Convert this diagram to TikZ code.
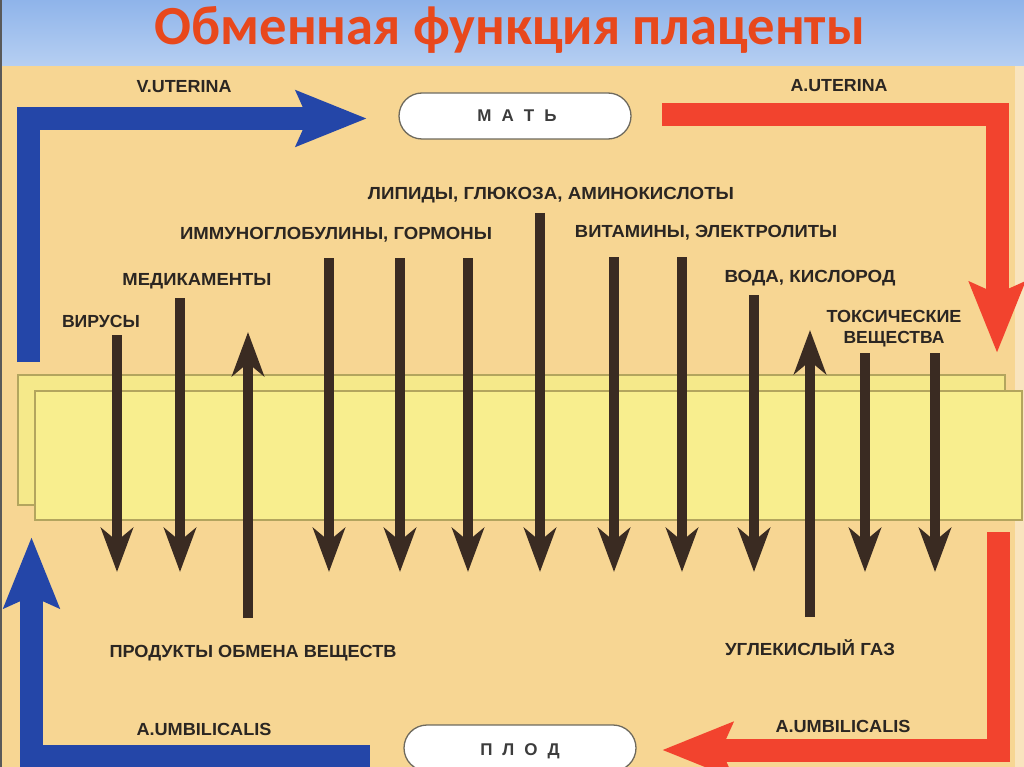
\documentclass[tikz,border=0pt]{standalone}
\usepackage{fontspec}
\setmainfont{Liberation Sans}
\newfontfamily\titlefont{Carlito}
\usetikzlibrary{arrows.meta,shapes.misc}
\definecolor{sky1}{HTML}{8FB4EA}
\definecolor{sky2}{HTML}{B6CFF2}
\definecolor{peach}{HTML}{F7D693}
\definecolor{edgepale}{HTML}{F9E4BE}
\definecolor{memfill}{HTML}{F8EE8E}
\definecolor{memback}{HTML}{F5E98A}
\definecolor{memline}{HTML}{B3A55E}
\definecolor{brn}{HTML}{3A2B22}
\definecolor{blu}{HTML}{2446A8}
\definecolor{rd}{HTML}{F2432E}
\definecolor{ttl}{HTML}{E8481C}
\definecolor{lab}{HTML}{2B2622}
\definecolor{boxtxt}{HTML}{3C3C3C}
\definecolor{boxline}{HTML}{6E6A5E}
\newcommand{\lw}[2]{\resizebox{#1pt}{\height}{#2}}
\begin{document}
\begin{tikzpicture}[x=1pt,y=-1pt,
  lbl/.style={font=\bfseries\fontsize{17.5pt}{21pt}\selectfont, text=lab, inner sep=0pt, anchor=base},
  pill/.style={rounded rectangle, draw=boxline, line width=1.3pt, fill=white, minimum width=232pt, minimum height=46pt, inner sep=0pt},
  pilltext/.style={font=\bfseries\fontsize{17pt}{20pt}\selectfont, text=boxtxt, inner sep=0pt, anchor=base},
  membrane/.style={draw=memline, line width=1.2pt},
  flow/.style={draw=brn, line width=10pt, -{Stealth[length=44pt,width=32pt,inset=13pt]}},
  vessel/.style={line width=23pt, line join=miter, -{Stealth[length=70pt,width=54pt,inset=11pt]}}
]
\useasboundingbox (0,0) rectangle (1024,767);
% background
\fill[peach] (0,0) rectangle (1024,767);
\fill[edgepale] (1015,66) rectangle (1024,767);
\shade[top color=sky1, bottom color=sky2] (0,0) rectangle (1024,66);
\draw[gray!70!black, line width=1.5pt] (1,0) -- (1,767);
% title
\node[anchor=base, inner sep=0pt, text=ttl] (title) at (510,45)
  {\resizebox{710pt}{38pt}{\titlefont\bfseries Обменная функция плаценты}};
% membrane
\fill[memback] (18,375) rectangle (1005,505);
\draw[membrane] (18,375) rectangle (1005,505);
\fill[memfill] (35,391) rectangle (1022,520);
\draw[membrane] (35,391) rectangle (1022,520);
% pills
\node[pill] (mat) at (515,116) {};
\node[pilltext] (mattext) at (517,122) {М\hspace{10pt}А\hspace{10pt}Т\hspace{10pt}Ь};
\node[pill] (plod) at (520,748) {};
\node[pilltext] (plodtext) at (520,755) {П\hspace{10pt}Л\hspace{10pt}О\hspace{10pt}Д};
% vessels
\coordinate (vu0) at (28,362);
\coordinate (vu1) at (28,118.5);
\coordinate (vu2) at (367,118.5);
\draw[vessel, draw=blu] (vu0) -- (vu1) -- (vu2);
\coordinate (au0) at (662,114.5);
\coordinate (au1) at (997,114.5);
\coordinate (au2) at (997,353);
\draw[vessel, draw=rd] (au0) -- (au1) -- (au2);
\coordinate (ub0) at (370,756.5);
\coordinate (ub1) at (31.5,756.5);
\coordinate (ub2) at (31.5,537);
\draw[vessel, draw=blu] (ub0) -- (ub1) -- (ub2);
\coordinate (ur0) at (998.5,532);
\coordinate (ur1) at (998.5,750);
\coordinate (ur2) at (662,750);
\draw[vessel, draw=rd] (ur0) -- (ur1) -- (ur2);
% exchange arrows (down: mother -> fetus)
\foreach \n/\x/\y in {a/117/335, b/180/298, c/329/258, d/400/258, e/468/258, f/540/213, g/614/257, h/682/257, i/754/295, j/865/353, k/935/353}{
  \coordinate (s\n) at (\x,\y);
  \coordinate (e\n) at (\x,572);
  \draw[flow] (s\n) -- (e\n);
}
% up arrows (fetus -> mother)
\coordinate (su1) at (248,618);
\coordinate (eu1) at (248,332);
\draw[flow] (su1) -- (eu1);
\coordinate (su2) at (810,617);
\coordinate (eu2) at (810,330);
\draw[flow] (su2) -- (eu2);
% labels
\node[lbl] (lvu) at (184,93) {\lw{95}{V.UTERINA}};
\node[lbl] (lau) at (839,92) {\lw{97}{A.UTERINA}};
\node[lbl] (lvir) at (101,327) {\lw{78}{ВИРУСЫ}};
\node[lbl] (lmed) at (197,285) {\lw{149}{МЕДИКАМЕНТЫ}};
\node[lbl] (limm) at (336,240) {\lw{312}{ИММУНОГЛОБУЛИНЫ, ГОРМОНЫ}};
\node[lbl] (llip) at (551,200) {\lw{366}{ЛИПИДЫ, ГЛЮКОЗА, АМИНОКИСЛОТЫ}};
\node[lbl] (lvit) at (706,237) {\lw{262}{ВИТАМИНЫ, ЭЛЕКТРОЛИТЫ}};
\node[lbl] (lvod) at (810,282) {\lw{171}{ВОДА, КИСЛОРОД}};
\node[lbl] (ltox1) at (894,322) {\lw{135}{ТОКСИЧЕСКИЕ}};
\node[lbl] (ltox2) at (894,343) {\lw{101}{ВЕЩЕСТВА}};
\node[lbl] (lprod) at (253,657) {\lw{287}{ПРОДУКТЫ ОБМЕНА ВЕЩЕСТВ}};
\node[lbl] (lco2) at (810,655) {\lw{170}{УГЛЕКИСЛЫЙ ГАЗ}};
\node[lbl] (lumb1) at (204,735) {\lw{135}{A.UMBILICALIS}};
\node[lbl] (lumb2) at (843,732) {\lw{135}{A.UMBILICALIS}};
\end{tikzpicture}
\end{document}
